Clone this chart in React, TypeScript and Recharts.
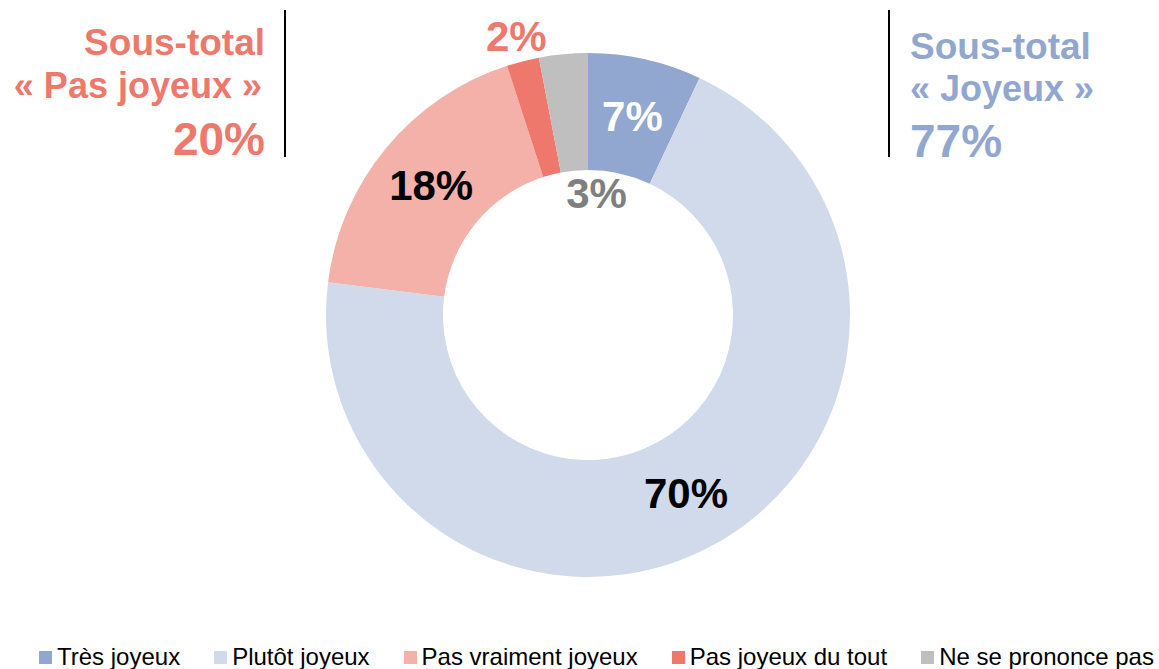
import { PieChart, Pie, Cell, Legend } from 'recharts';

// Réponses (en %), dans l'ordre du sens horaire depuis midi
const categories = ['Très joyeux', 'Plutôt joyeux', 'Pas vraiment joyeux', 'Pas joyeux du tout', 'Ne se prononce pas'];
const values = [7, 70, 18, 2, 3];
const labels = ['7%', '70%', '18%', '2%', '3%'];

const COLORS = ['#91a7d0', '#d0daea', '#f4b1a9', '#ee786b', '#bfbfbf'];
const LABEL_COLORS = ['#ffffff', '#000000', '#000000', '#ee786b', '#7f7f7f'];

const subtotalLeft = ['Sous-total', '« Pas joyeux »', '20%'];
const subtotalRight = ['Sous-total', '« Joyeux »', '77%'];

const data = categories.map((name, i) => ({ name, value: values[i] }));

const FONT = '"Liberation Sans", Arial, Helvetica, sans-serif';
const RADIAN = Math.PI / 180;

function renderLabel(props: any) {
  const { cx, cy, midAngle, innerRadius, outerRadius, index } = props;
  let r = (innerRadius + outerRadius) / 2;
  let dx = 0;
  if (index === 3) r = outerRadius + 26; // 2% : à l'extérieur
  if (index === 4) {
    // 3% : dans le trou, légèrement décalé
    r = innerRadius - 23;
    dx = 20;
  }
  const x = cx + r * Math.cos(-midAngle * RADIAN) + dx;
  const y = cy + r * Math.sin(-midAngle * RADIAN);
  return (
    <text
      x={x}
      y={y}
      fill={LABEL_COLORS[index]}
      textAnchor="middle"
      dominantBaseline="central"
      fontFamily={FONT}
      fontWeight="bold"
      fontSize={42}
    >
      {labels[index]}
    </text>
  );
}

function renderLegend(props: any) {
  // garder l'ordre des catégories (pas de tri alphabétique)
  const items = [...(props.payload || [])].sort(
    (a: any, b: any) => categories.indexOf(a.value) - categories.indexOf(b.value)
  );
  return (
    <div style={{ display: 'flex', fontFamily: FONT, fontSize: 24, color: '#000', paddingLeft: 39 }}>
      {items.map((entry: any, i: number) => (
        <div key={`leg-${i}`} style={{ display: 'flex', alignItems: 'center', marginRight: 34 }}>
          <span style={{ width: 13, height: 13, background: entry.color, marginRight: 5, display: 'inline-block' }} />
          <span style={{ whiteSpace: 'nowrap' }}>{entry.value}</span>
        </div>
      ))}
    </div>
  );
}

export default function App() {
  return (
    <div style={{ position: 'absolute', left: 0, top: 0, width: 1159, height: 669, background: '#fff' }}>
      <PieChart width={1159} height={669} margin={{ top: 0, right: 0, bottom: 0, left: 0 }}>
        <Pie
          data={data}
          dataKey="value"
          nameKey="name"
          cx={588}
          cy={315}
          innerRadius={145}
          outerRadius={262}
          startAngle={90}
          endAngle={-270}
          stroke="none"
          labelLine={false}
          label={renderLabel}
          isAnimationActive={false}
        >
          {data.map((_e, i) => (
            <Cell key={`cell-${i}`} fill={COLORS[i]} />
          ))}
        </Pie>
        <Legend
          verticalAlign="bottom"
          align="left"
          content={renderLegend}
          wrapperStyle={{ left: 0, top: 643, width: 1159, height: 26 }}
        />
      </PieChart>

      {/* Sous-totaux */}
      <svg width={1159} height={669} style={{ position: 'absolute', left: 0, top: 0, pointerEvents: 'none' }}>
        <line x1={285} y1={10} x2={285} y2={157} stroke="#000" strokeWidth={2} />
        <line x1={889} y1={10} x2={889} y2={157} stroke="#000" strokeWidth={2} />
        <g fontFamily={FONT} fontWeight="bold" fill="#ee786b" textAnchor="end">
          <text x={265} y={55} fontSize={37}>{subtotalLeft[0]}</text>
          <text x={262} y={98} fontSize={36}>{subtotalLeft[1]}</text>
          <text x={265} y={155} fontSize={46}>{subtotalLeft[2]}</text>
        </g>
        <g fontFamily={FONT} fontWeight="bold" fill="#91a7d0" textAnchor="start">
          <text x={910} y={59} fontSize={37}>{subtotalRight[0]}</text>
          <text x={910} y={101} fontSize={36}>{subtotalRight[1]}</text>
          <text x={910} y={157} fontSize={46}>{subtotalRight[2]}</text>
        </g>
      </svg>
    </div>
  );
}
